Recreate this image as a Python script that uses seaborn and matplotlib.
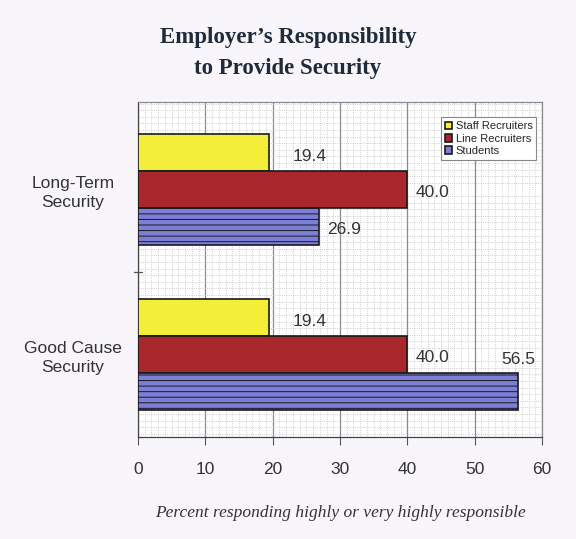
import pandas as pd
import matplotlib.pyplot as plt
import seaborn as sns
from matplotlib.ticker import MultipleLocator

# chart values
categories = ['Long-Term\nSecurity', 'Good Cause\nSecurity']
groups = ['Staff Recruiters', 'Line Recruiters', 'Students']
staff = [19.4, 19.4]
line = [40.0, 40.0]
students = [26.9, 56.5]
colors = ['#f2ee3a', '#a8272b', '#7c7ed8']

data = pd.DataFrame({
    'Category': categories * 3,
    'Group': [g for g in groups for _ in categories],
    'Percent': staff + line + students,
})

sns.set_style('white')
plt.rcParams['font.family'] = ['Liberation Sans', 'DejaVu Sans']
plt.rcParams['hatch.linewidth'] = 0.7
plt.rcParams['hatch.color'] = '#6668c4'

fig = plt.figure(figsize=(5.76, 5.39), dpi=100, facecolor='#f8f6fa')
ax = fig.add_axes([0.2396, 0.189, 0.7014, 0.622])
ax.set_facecolor('white')

sns.barplot(data=data, x='Percent', y='Category', hue='Group', orient='h',
            hue_order=groups, palette=colors, width=0.67,
            edgecolor='#1a1a1a', linewidth=1.2, saturation=1, ax=ax, zorder=3)

# striped blue bars
for cont, g in zip(ax.containers, groups):
    if g == 'Students':
        for bar in cont:
            bar.set_hatch('---')

# value labels
offsets = {('Staff Recruiters', 0): (17, -3), ('Staff Recruiters', 1): (17, -3),
           ('Line Recruiters', 0): (6, -2), ('Line Recruiters', 1): (6, -2),
           ('Students', 0): (6, -2), ('Students', 1): (-12, 23)}
for cont, g in zip(ax.containers, groups):
    for i, bar in enumerate(cont):
        val = bar.get_width()
        dx, dy = offsets[(g, i)]
        ax.annotate(f'{val:.1f}', (val, bar.get_y() + bar.get_height() / 2),
                    xytext=(dx, dy), textcoords='offset points',
                    ha='left', va='center', fontsize=12.5, color='#333333')

ax.set_xlim(0, 60)
ax.set_ylim(1.5, -0.53)
ax.xaxis.set_major_locator(MultipleLocator(10))
ax.xaxis.set_minor_locator(MultipleLocator(1))
ax.yaxis.set_minor_locator(MultipleLocator(0.04))

ax.grid(True, which='minor', color='#c0c0c0', linestyle=':', linewidth=0.6, zorder=0)
ax.grid(True, which='major', axis='x', color='#8a8a8a', linestyle='-', linewidth=0.9, zorder=1)
ax.set_axisbelow(True)

ax.tick_params(axis='x', which='major', direction='out', length=6, color='#555555',
               labelsize=12.5, labelcolor='#333333', pad=12, bottom=True)
ax.tick_params(axis='x', which='minor', length=0)
ax.tick_params(axis='y', which='both', length=0, labelsize=12.5, labelcolor='#333333', pad=47)
for lab in ax.get_yticklabels():
    lab.set_ha('center')
    lab.set_linespacing(1.35)

# small tick between the groups on the left axis
ax.plot([-0.6, 0.6], [0.5, 0.5], color='#555555', lw=0.9, clip_on=False, zorder=5)

for s in ax.spines.values():
    s.set_color('#8a8a8a')
    s.set_linewidth(0.9)
ax.spines['left'].set_color('#444444')
ax.spines['bottom'].set_color('#444444')

ax.set_ylabel('')
ax.set_xlabel('Percent responding highly or very highly responsible',
              fontsize=12.5, fontstyle='italic', family='Liberation Serif',
              color='#333333', labelpad=20)

fig.text(0.5, 1 - 53 / 539, "Employer\u2019s Responsibility\nto Provide Security",
         ha='center', va='center', fontsize=16.5, fontweight='bold',
         family='Liberation Serif', color='#1f2a3a', linespacing=1.6)

handles, labels = ax.get_legend_handles_labels()
leg = ax.legend(handles, labels, loc='upper right', bbox_to_anchor=(1.0, 0.97),
                fontsize=8, handlelength=0.7, handleheight=0.7, handletextpad=0.3,
                borderpad=0.35, labelspacing=0.2, frameon=True, fancybox=False,
                edgecolor='#888888', framealpha=1)
leg.get_frame().set_linewidth(0.8)

fig.savefig('out.png', dpi=100, facecolor=fig.get_facecolor())
